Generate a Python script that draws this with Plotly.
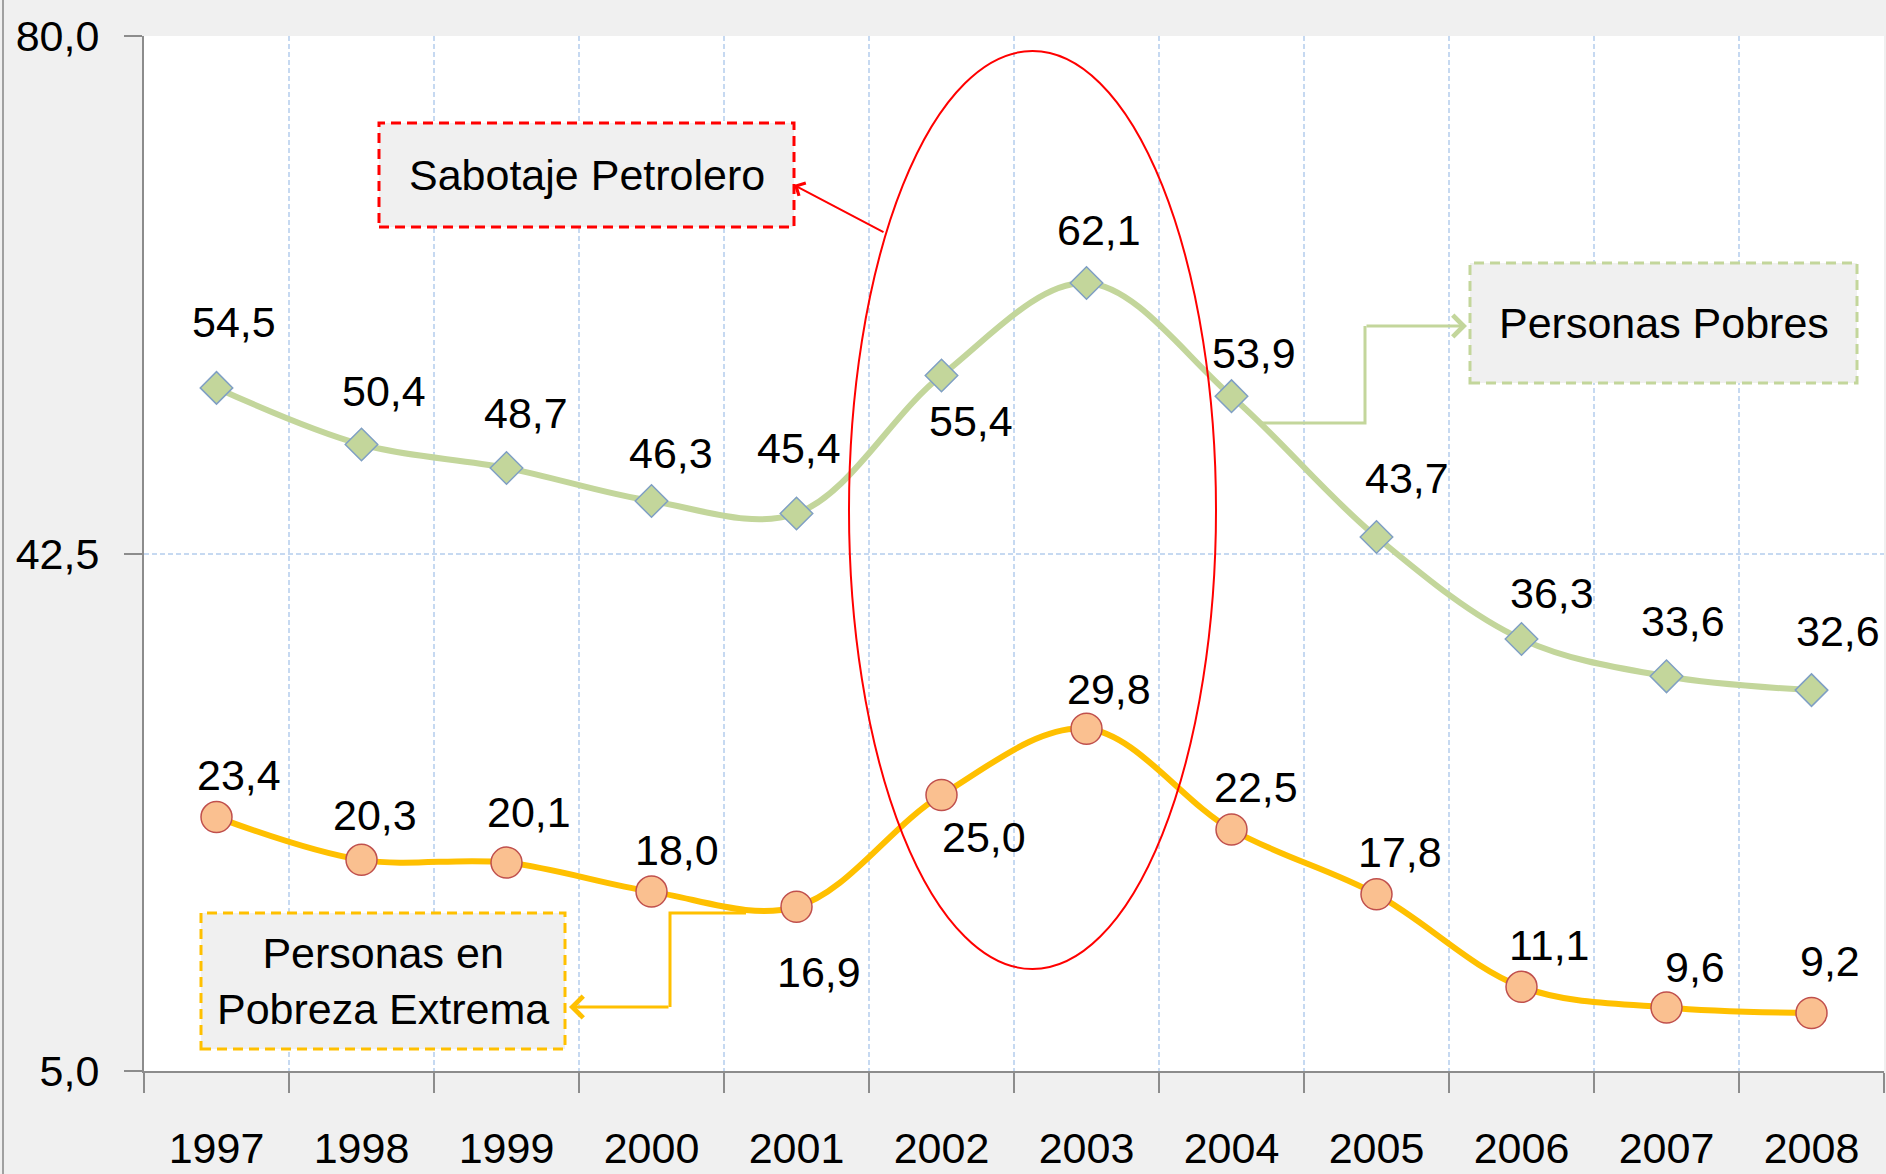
import plotly.graph_objects as go

# ---------------- data ----------------
years = ["1997", "1998", "1999", "2000", "2001", "2002", "2003", "2004", "2005", "2006", "2007", "2008"]
pobres = [54.5, 50.4, 48.7, 46.3, 45.4, 55.4, 62.1, 53.9, 43.7, 36.3, 33.6, 32.6]
extrema = [23.4, 20.3, 20.1, 18.0, 16.9, 25.0, 29.8, 22.5, 17.8, 11.1, 9.6, 9.2]
y_ticks = [5.0, 42.5, 80.0]

# label pixel offsets (style only)
pobres_off = [(17, -66), (22, -53), (19, -55), (19, -48), (2, -65), (29, 46),
              (12, -53), (22, -43), (30, -59), (30, -46), (16, -55), (26, -59)]
extrema_off = [(22, -42), (13, -45), (22, -51), (25, -42), (22, 65), (42, 42),
               (22, -40), (24, -43), (23, -42), (28, -42), (28, -41), (18, -52)]

W, H = 1886, 1174
PL, PT, PR, PB = 144, 36, 1884, 1071
FONT = "Liberation Sans, Arial, sans-serif"
FS = 43


def fx(px):
    return (px - PL) / (PR - PL)


def fy(py):
    return (PB - py) / (PB - PT)


fig = go.Figure()
fig.add_trace(go.Scatter(
    x=years, y=pobres, mode="lines+markers", name="Personas Pobres",
    line=dict(color="#C3D69B", width=6, shape="spline"),
    marker=dict(symbol="diamond", size=25, color="#C3D69B",
                line=dict(color="#7F9FC4", width=1.5)),
    cliponaxis=False,
))
fig.add_trace(go.Scatter(
    x=years, y=extrema, mode="lines+markers", name="Personas en Pobreza Extrema",
    line=dict(color="#FFC000", width=6, shape="spline"),
    marker=dict(symbol="circle", size=31, color="#FAC090",
                line=dict(color="#C0504D", width=1.5)),
    cliponaxis=False,
))

annotations = []
for i, (v, (dx, dy)) in enumerate(zip(pobres, pobres_off)):
    annotations.append(dict(x=i, y=v, xref="x", yref="y", text=f"{v:.1f}".replace(".", ","),
                            showarrow=False, xshift=dx, yshift=-dy,
                            font=dict(family=FONT, size=FS, color="black")))
for i, (v, (dx, dy)) in enumerate(zip(extrema, extrema_off)):
    annotations.append(dict(x=i, y=v, xref="x", yref="y", text=f"{v:.1f}".replace(".", ","),
                            showarrow=False, xshift=dx, yshift=-dy,
                            font=dict(family=FONT, size=FS, color="black")))

shapes = []
# left frame line
shapes.append(dict(type="line", xref="paper", yref="paper", x0=fx(3), x1=fx(3),
                   y0=fy(0), y1=fy(H), line=dict(color="#A0A0A0", width=2)))
# ellipse
shapes.append(dict(type="circle", xref="paper", yref="paper",
                   x0=fx(849), x1=fx(1216), y0=fy(969), y1=fy(51),
                   line=dict(color="#FF0000", width=2)))
# boxes
boxes = [
    ((379, 123, 794, 227), "#FF0000", "Sabotaje Petrolero"),
    ((1470, 263, 1857, 383), "#C3D69B", "Personas Pobres"),
    ((201, 913, 565, 1049), "#FFC000", "Personas en<br>Pobreza Extrema"),
]
for (x0, y0, x1, y1), col, txt in boxes:
    shapes.append(dict(type="rect", xref="paper", yref="paper",
                       x0=fx(x0), x1=fx(x1), y0=fy(y1), y1=fy(y0),
                       fillcolor="#F0F0F0",
                       line=dict(color=col, width=3, dash="10px,6px")))
    annotations.append(dict(xref="paper", yref="paper", x=fx((x0 + x1) / 2), y=fy((y0 + y1) / 2),
                            text=txt, showarrow=False, xanchor="center", yanchor="middle",
                            font=dict(family=FONT, size=FS, color="black")))


def path(pts):
    return "M " + " L ".join(f"{fx(a)},{fy(b)}" for a, b in pts)


shapes.append(dict(type="path", xref="paper", yref="paper",
                   path=path([(1261, 423), (1365, 423), (1365, 326)]),
                   line=dict(color="#C3D69B", width=3)))
shapes.append(dict(type="path", xref="paper", yref="paper",
                   path=path([(746, 913), (670, 913), (670, 1007)]),
                   line=dict(color="#FFC000", width=3)))

arrows = [
    ((1365, 326), (1467, 326), "#C3D69B", 3),
    ((670, 1007), (569, 1007), "#FFC000", 3),
    ((885, 233), (794, 185), "#FF0000", 2),
]
for (tx, ty), (hx, hy), col, w in arrows:
    annotations.append(dict(xref="paper", yref="paper", x=fx(hx), y=fy(hy),
                            ax=tx - hx, ay=ty - hy, axref="pixel", ayref="pixel",
                            text="", showarrow=True, arrowhead=4, arrowsize=1.4,
                            arrowwidth=w, arrowcolor=col, standoff=0, startstandoff=0))

fig.update_layout(
    width=W, height=H,
    margin=dict(l=PL, r=W - PR, t=PT, b=H - PB, pad=0),
    paper_bgcolor="#F0F0F0",
    plot_bgcolor="white",
    showlegend=False,
    separators=",.",
    shapes=shapes,
    annotations=annotations,
    font=dict(family=FONT, size=FS, color="black"),
)
fig.update_xaxes(
    type="category", categoryorder="array", categoryarray=years,
    range=[-0.5, len(years) - 0.5], tickson="boundaries",
    showgrid=True, gridcolor="#C6D9F1", gridwidth=1.5, griddash="5px,3px",
    showline=True, linecolor="#8C8C8C", linewidth=2,
    ticks="outside", ticklen=20, tickwidth=2, tickcolor="#8C8C8C",
    tickfont=dict(family=FONT, size=FS, color="black"),
    ticklabelstandoff=38,
    zeroline=False,
)
fig.update_yaxes(
    range=[5, 80], tickvals=y_ticks, tickformat=".1f",
    showgrid=True, gridcolor="#C6D9F1", gridwidth=1.5, griddash="5px,3px",
    showline=True, linecolor="#8C8C8C", linewidth=2,
    ticks="outside", ticklen=18, tickwidth=2, tickcolor="#8C8C8C",
    tickfont=dict(family=FONT, size=FS, color="black"),
    ticklabelstandoff=16,
    zeroline=False,
)

fig.write_html(
    "out.html",
    config={"displayModeBar": False},
    post_script="document.body.style.margin='0';document.body.style.overflow='hidden';",
)
